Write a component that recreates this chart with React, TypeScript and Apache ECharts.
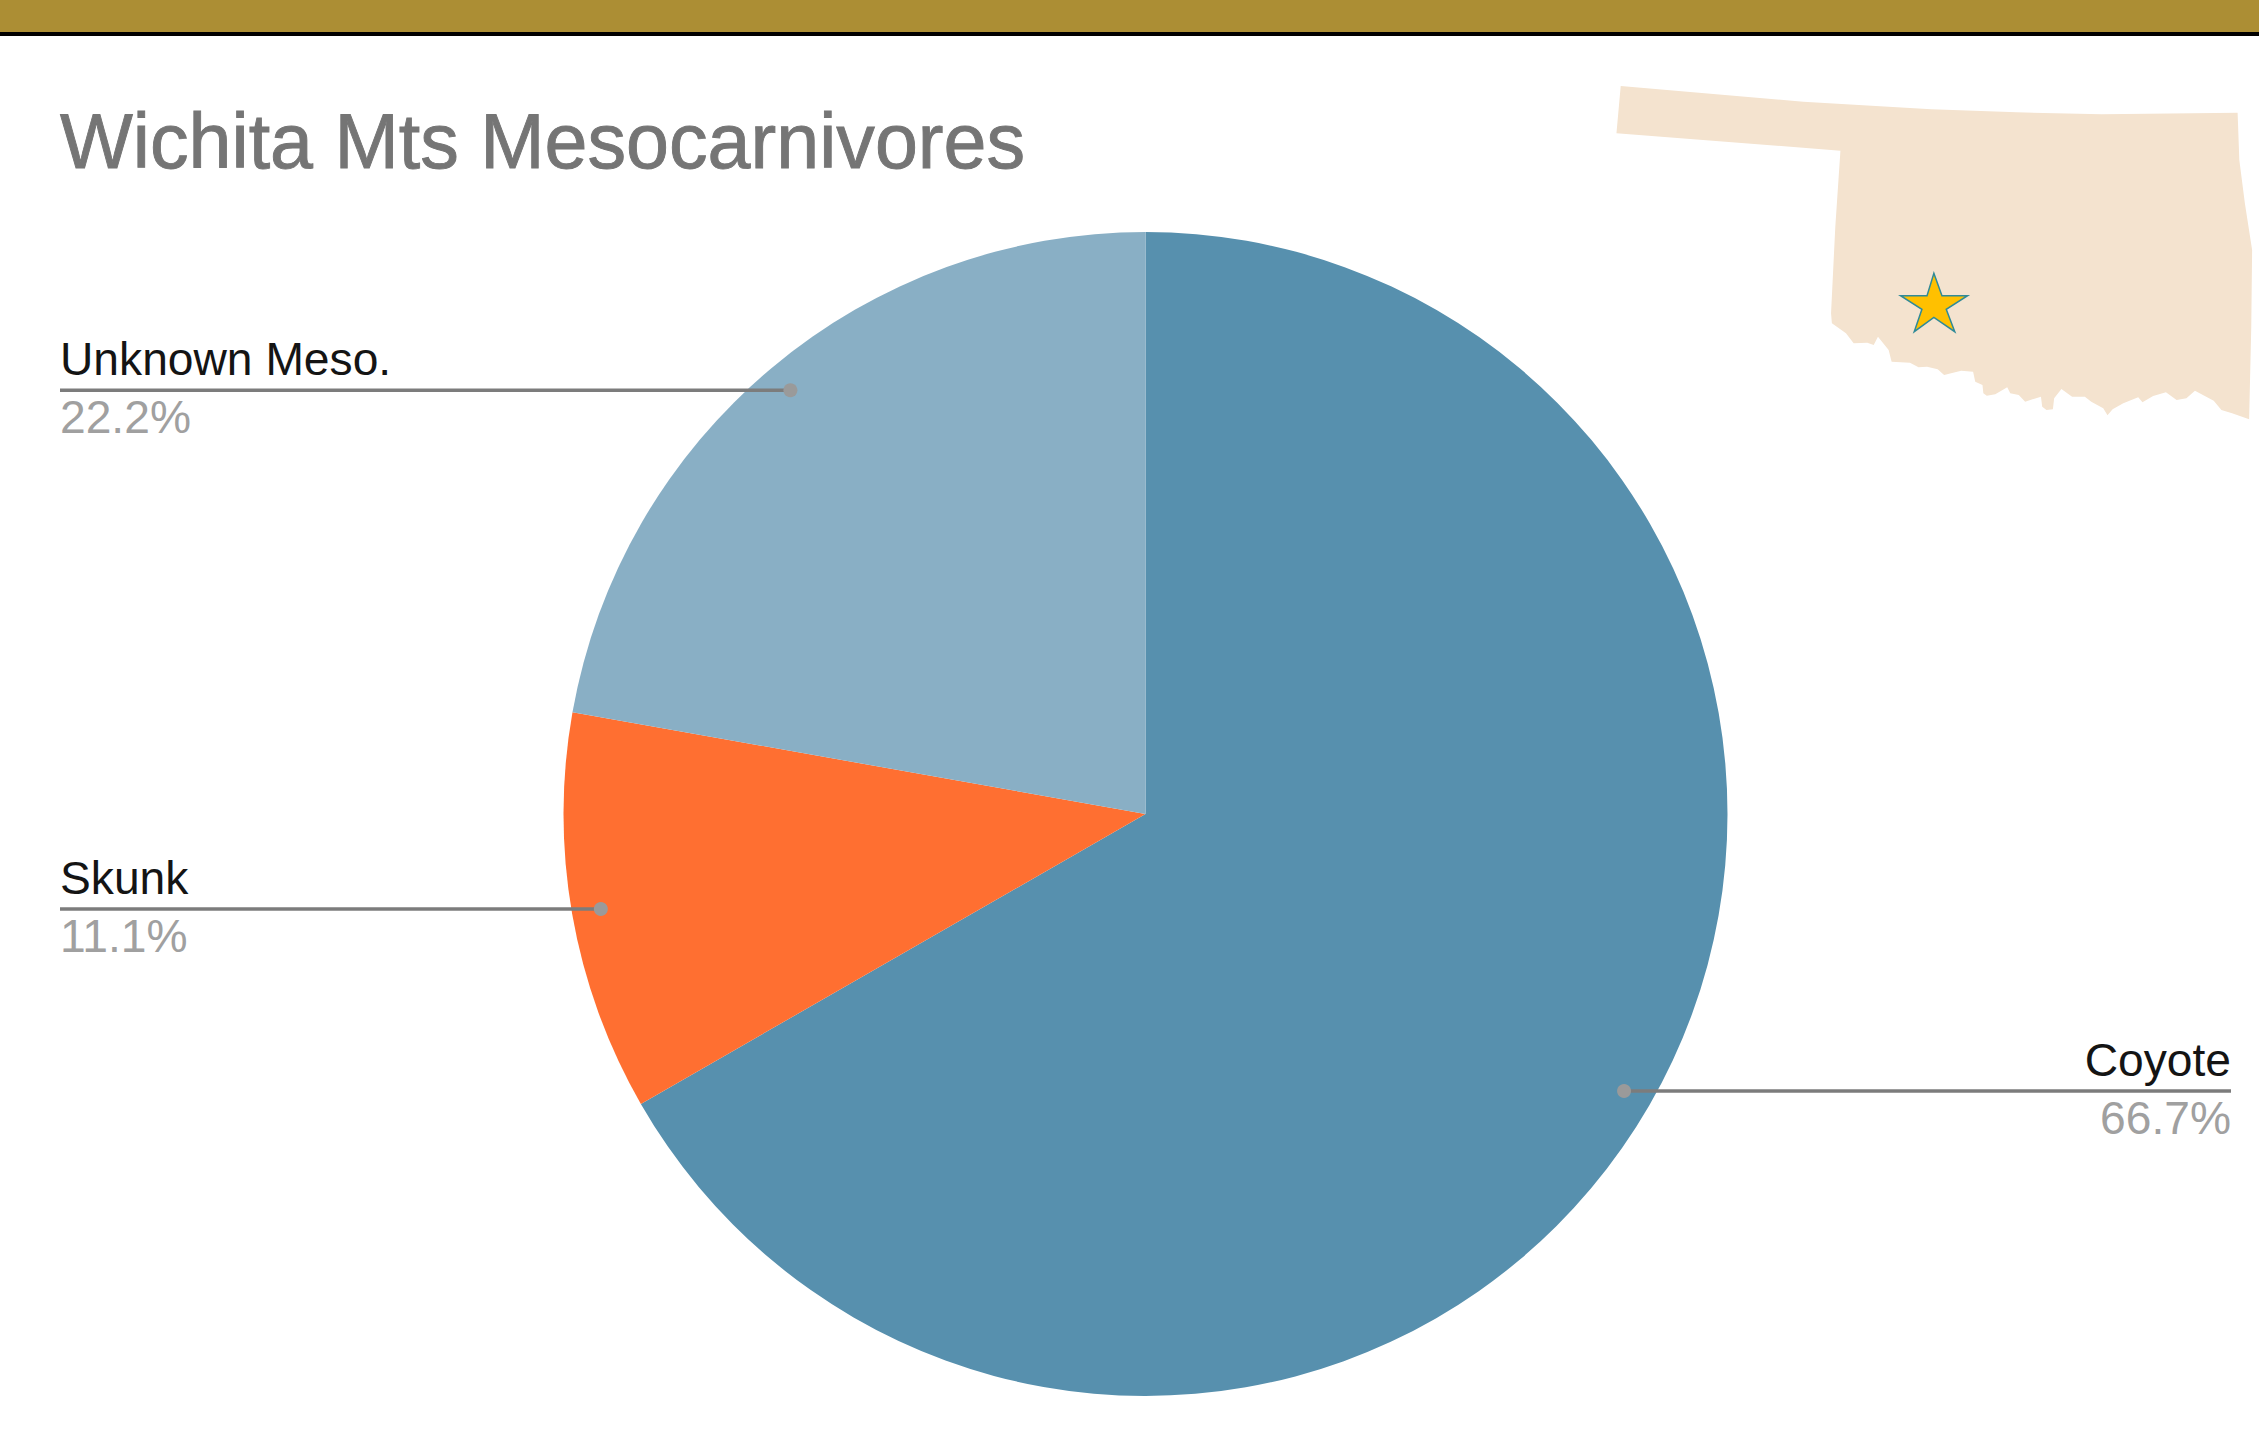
import React, { useEffect, useRef } from "react";
import * as echarts from "echarts";

const categories = ["Coyote", "Skunk", "Unknown Meso."];
const shares = [66.7, 11.1, 22.2];
const sliceColors = ["#5790AE", "#FF6F31", "#89AFC5"];
const titleText = "Wichita Mts Mesocarnivores";

// Oklahoma outline, in the inset's own drawing units.
const stateOutline: number[][] = [
  [72, 78], [500, 125], [800, 148], [1000, 157], [1200, 163], [1518, 158], [1522, 300], [1535, 430],
  [1552, 570], [1550, 800], [1545, 1078], [1505, 1060], [1480, 1050], [1462, 1022], [1418, 992],
  [1398, 1015], [1375, 1020], [1350, 997], [1320, 1008], [1295, 1027], [1285, 1012], [1250, 1030],
  [1225, 1048], [1213, 1066], [1203, 1045], [1175, 1025], [1160, 1010], [1130, 1010], [1105, 987],
  [1088, 1015], [1085, 1048], [1070, 1050], [1060, 1040], [1057, 1010], [1020, 1025], [1005, 1005],
  [985, 1000], [978, 982], [950, 1003], [930, 1007], [922, 1000], [920, 975], [903, 965], [898, 935],
  [870, 932], [830, 945], [815, 928], [790, 920], [770, 922], [750, 908], [707, 905], [700, 870],
  [675, 830], [665, 855], [650, 848], [618, 850], [600, 820], [567, 790], [565, 760], [575, 500],
  [587, 272], [62, 220],
];
const siteStar: number[][] = [
  [806, 640], [825, 707], [885, 707], [835, 748], [855, 815], [806, 772], [760, 815], [778, 748],
  [728, 707], [790, 707],
];

const WIDTH = 2259;
const HEIGHT = 1443;
const CX = 1145.5;
const CY = 814;
const RADIUS = 582;
const ANCHOR_RATIO = 0.95;
const LEFT_EDGE = 60;
const RIGHT_EDGE = 2231;
const LABEL_SHIFT = -2;

const total = shares.reduce((a, b) => a + b, 0);

// Point on the pie at the middle of a slice, where its leader line starts.
function sliceAnchor(index: number): number[] {
  const before = shares.slice(0, index).reduce((a, b) => a + b, 0);
  const mid = ((before + shares[index] / 2) / total) * Math.PI * 2;
  const r = RADIUS * ANCHOR_RATIO;
  return [CX + r * Math.sin(mid), CY - r * Math.cos(mid)];
}

const insetPoint = (p: number[]) => [1590 + p[0] / 2.344, 60 + p[1] / 3];

export default function App() {
  const ref = useRef<HTMLDivElement>(null);

  useEffect(() => {
    const chart = echarts.init(ref.current!, undefined, { renderer: "svg" });
    chart.setOption({
      animation: false,
      backgroundColor: "#ffffff",
      graphic: [
        { type: "rect", shape: { x: 0, y: 0, width: WIDTH, height: 32 }, style: { fill: "#AC8E34" } },
        { type: "rect", shape: { x: 0, y: 32, width: WIDTH, height: 4 }, style: { fill: "#000000" } },
        {
          type: "text",
          x: 60,
          y: 141,
          style: {
            text: titleText,
            font: '77.2px "Liberation Sans"',
            fill: "#757575",
            stroke: "#757575",
            lineWidth: 0.9,
            textAlign: "left",
            textVerticalAlign: "middle",
          },
        },
        {
          type: "polygon",
          shape: { points: stateOutline.map(insetPoint) },
          style: { fill: "#F4E3CF" },
        },
        {
          type: "polygon",
          shape: { points: siteStar.map(insetPoint) },
          style: { fill: "#FFC000", stroke: "#2F8A98", lineWidth: 1.5 },
        },
      ],
      series: [
        {
          type: "pie",
          center: [CX, CY],
          radius: [0, RADIUS],
          startAngle: 90,
          clockwise: true,
          avoidLabelOverlap: false,
          silent: true,
          z: 2,
          data: categories.map((name, i) => ({
            name,
            value: shares[i],
            itemStyle: { color: sliceColors[i] },
          })),
          label: {
            show: true,
            position: "outside",
            formatter: (p: any) => `{name|${p.name}}\n{share|${p.value.toFixed(1)}%}`,
            rich: {
              name: { fontFamily: "Liberation Sans", fontSize: 46.2, color: "#141414", lineHeight: 58 },
              share: { fontFamily: "Liberation Sans", fontSize: 46.2, color: "#A0A0A0", lineHeight: 58 },
            },
          },
          labelLine: { show: false },
          labelLayout: (params: any) => {
            const anchor = sliceAnchor(params.dataIndex);
            const onRight = anchor[0] > CX;
            return {
              x: onRight ? RIGHT_EDGE : LEFT_EDGE,
              y: anchor[1] + LABEL_SHIFT,
              align: onRight ? "right" : "left",
              verticalAlign: "middle",
            };
          },
        },
        {
          // Leader lines with round caps, drawn above the slices they start in.
          type: "custom",
          coordinateSystem: "none",
          silent: true,
          z: 5,
          data: shares.map((_, i) => i),
          renderItem: (_: any, api: any) => {
            const p = sliceAnchor(api.value(0));
            const edge = p[0] > CX ? RIGHT_EDGE : LEFT_EDGE;
            return {
              type: "group",
              children: [
                {
                  type: "line",
                  shape: { x1: p[0], y1: p[1], x2: edge, y2: p[1] },
                  style: { stroke: "#7C7C7C", lineWidth: 3.5 },
                },
                {
                  type: "circle",
                  shape: { cx: p[0], cy: p[1], r: 7 },
                  style: { fill: "#9A9A9A" },
                },
              ],
            };
          },
        },
      ],
    });
    return () => chart.dispose();
  }, []);

  return (
    <div
      ref={ref}
      style={{ position: "absolute", left: 0, top: 0, width: WIDTH, height: HEIGHT }}
    />
  );
}
